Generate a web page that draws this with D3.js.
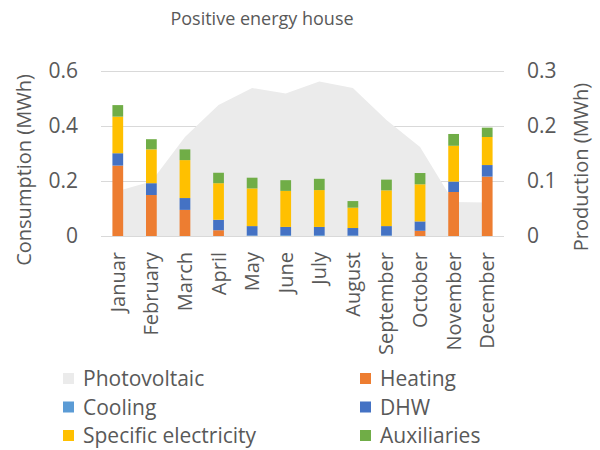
<!DOCTYPE html>
<html>
<head>
<meta charset="utf-8">
<script src="https://cdn.jsdelivr.net/npm/d3@7"></script>
<style>
  body { margin: 0; background: #fff; }
  text { font-family: "Open Sans", sans-serif; fill: #595959; }
</style>
</head>
<body>
<div id="chart"></div>
<script>
// Data (MWh)
let months = ["Januar", "February", "March", "April", "May", "June", "July",
              "August", "September", "October", "November", "December"];
let heating  = [0.256, 0.149, 0.095, 0.021, 0, 0, 0, 0, 0, 0.019, 0.160, 0.216];
let cooling  = [0, 0, 0, 0, 0.002, 0.003, 0.003, 0.002, 0.002, 0, 0, 0];
let dhw      = [0.045, 0.043, 0.043, 0.038, 0.034, 0.030, 0.030, 0.027, 0.034, 0.034, 0.038, 0.042];
let specific = [0.133, 0.123, 0.138, 0.133, 0.137, 0.131, 0.134, 0.074, 0.130, 0.135, 0.130, 0.102];
let aux      = [0.042, 0.037, 0.039, 0.038, 0.039, 0.039, 0.041, 0.024, 0.039, 0.041, 0.043, 0.034];
let photovoltaic = [0.082, 0.099, 0.180, 0.238, 0.269, 0.259, 0.281, 0.269, 0.211, 0.162, 0.062, 0.061];

let leftTicks = [0, 0.2, 0.4, 0.6];
let rightTicks = [0, 0.1, 0.2, 0.3];

let seriesNames = ["Heating", "Cooling", "DHW", "Specific electricity", "Auxiliaries"];
let seriesValues = [heating, cooling, dhw, specific, aux];
let colors = ["#ED7D31", "#5B9BD5", "#4472C4", "#FFC000", "#70AD47"];

let width = 600, height = 450;
let margin = { left: 101, right: 96, top: 71, bottom: 214 };

let svg = d3.select("#chart").append("svg")
    .attr("width", width)
    .attr("height", height);

let x = d3.scaleBand()
    .domain(months)
    .range([margin.left, width - margin.right])
    .paddingInner(0.68)
    .paddingOuter(0.34);

let yL = d3.scaleLinear().domain([0, 0.6]).range([height - margin.bottom, margin.top]);
let yR = d3.scaleLinear().domain([0, 0.3]).range([height - margin.bottom, margin.top]);

// Title
svg.append("text")
  .attr("x", 262)
  .attr("y", 25)
  .attr("text-anchor", "middle")
  .style("font-size", "18px")
  .text("Positive energy house");

// Gridlines
svg.append("g")
  .selectAll("line")
  .data(leftTicks)
  .enter().append("line")
  .attr("x1", margin.left)
  .attr("x2", width - margin.right)
  .attr("y1", d => Math.round(yL(d)) + 0.5)
  .attr("y2", d => Math.round(yL(d)) + 0.5)
  .attr("stroke", "#d9d9d9")
  .attr("stroke-width", 1);

// Photovoltaic area (right axis)
let bw = x.bandwidth();
let area = d3.area()
    .x((d, i) => x(months[i]) + bw / 2)
    .y0(yR(0))
    .y1(d => yR(d));

svg.append("path")
  .datum(photovoltaic)
  .attr("d", area)
  .attr("fill", "#ebebeb");

// Stacked bars
let table = months.map((m, i) => {
  let row = { month: m };
  seriesNames.forEach((s, k) => { row[s] = seriesValues[k][i]; });
  return row;
});
let stack = d3.stack().keys(seriesNames)(table);

svg.append("g")
  .selectAll("g")
  .data(stack)
  .enter().append("g")
  .attr("fill", (d, i) => colors[i])
  .selectAll("rect")
  .data(d => d)
  .enter().append("rect")
  .attr("x", d => x(d.data.month))
  .attr("width", bw)
  .attr("y", d => yL(d[1]))
  .attr("height", d => Math.max(0, yL(d[0]) - yL(d[1])));

// Left axis ticks
svg.append("g")
  .selectAll("text")
  .data(leftTicks)
  .enter().append("text")
  .attr("x", 78)
  .attr("y", d => yL(d))
  .attr("dy", "0.35em")
  .attr("text-anchor", "end")
  .style("font-size", "21px")
  .text(d => d3.format("~g")(d));

// Right axis ticks
svg.append("g")
  .selectAll("text")
  .data(rightTicks)
  .enter().append("text")
  .attr("x", 527)
  .attr("y", d => yR(d))
  .attr("dy", "0.35em")
  .attr("text-anchor", "start")
  .style("font-size", "21px")
  .text(d => d3.format("~g")(d));

// Month labels (rotated)
svg.append("g")
  .selectAll("text")
  .data(months)
  .enter().append("text")
  .attr("transform", d => "translate(" + (x(d) + bw / 2) + "," + 252 + ") rotate(-90)")
  .attr("dy", "0.35em")
  .attr("text-anchor", "end")
  .style("font-size", "20px")
  .text(d => d);

// Axis titles
svg.append("text")
  .attr("transform", "translate(24,170) rotate(-90)")
  .attr("dy", "0.35em")
  .attr("text-anchor", "middle")
  .style("font-size", "20px")
  .text("Consumption (MWh)");

svg.append("text")
  .attr("transform", "translate(581,167) rotate(-90)")
  .attr("dy", "0.35em")
  .attr("text-anchor", "middle")
  .style("font-size", "20px")
  .text("Production (MWh)");

// Legend
let legendItems = [
  { name: "Photovoltaic", color: "#ebebeb" },
  { name: "Heating", color: colors[0] },
  { name: "Cooling", color: colors[1] },
  { name: "DHW", color: colors[2] },
  { name: "Specific electricity", color: colors[3] },
  { name: "Auxiliaries", color: colors[4] }
];

let legend = svg.append("g")
  .selectAll("g")
  .data(legendItems)
  .enter().append("g")
  .attr("transform", (d, i) => "translate(" + (i % 2 === 0 ? 63 : 360) + "," + (379 + Math.floor(i / 2) * 28.5) + ")");

legend.append("rect")
  .attr("x", 0)
  .attr("y", -6)
  .attr("width", 11)
  .attr("height", 11)
  .attr("fill", d => d.color);

legend.append("text")
  .attr("x", 20)
  .attr("y", 0)
  .attr("dy", "0.35em")
  .style("font-size", "21px")
  .text(d => d.name);
</script>
</body>
</html>
